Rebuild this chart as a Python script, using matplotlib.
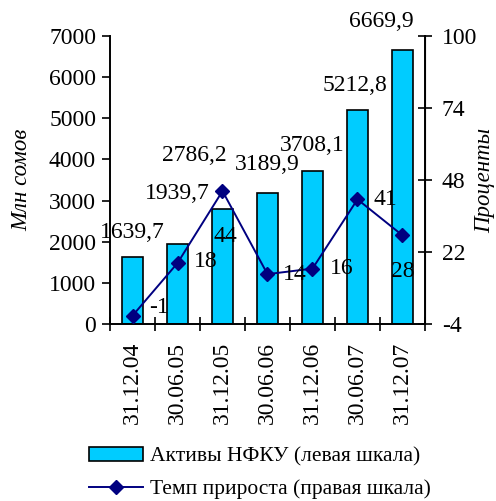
import matplotlib
matplotlib.use("Agg")
import matplotlib.pyplot as plt
from matplotlib.lines import Line2D
from matplotlib.patches import Patch
import numpy as np

plt.rcParams['font.family'] = ['Liberation Serif', 'DejaVu Serif']
plt.rcParams['axes.unicode_minus'] = False

dates = ["31.12.04", "30.06.05", "31.12.05", "30.06.06", "31.12.06", "30.06.07", "31.12.07"]
assets = [1639.7, 1939.7, 2786.2, 3189.9, 3708.1, 5212.8, 6669.9]
growth = [-1, 18, 44, 14, 16, 41, 28]
right_ticks = [-4, 22, 48, 74, 100]

# label placement offsets (points) relative to each mark
asset_offsets = [(0, 17.6), (0, 36.7), (-20, 39), (0, 20), (0, 18.7), (-2, 17.6), (-15, 20)]
growth_offsets = [(19, 6), (20, 1), (2, -33), (20, 0), (21, 0), (20, 0), (0, -26)]

fs = 17
lab_fs = 16.5
leg_fs = 15.5
bar_color = "#00CCFF"
line_color = "#000080"

fig = plt.figure(figsize=(4.96, 5.01), dpi=100)
ax = fig.add_axes([0.2218, 0.3533, 0.635, 0.5749])
ax2 = ax.twinx()

x = np.arange(len(dates))
ax.bar(x, assets, width=0.45, color=bar_color, edgecolor="black", linewidth=1.2, zorder=2)
ax.set_xlim(-0.5, len(dates) - 0.5)
ax.set_ylim(0, 7000)
ax.set_yticks(np.arange(0, 7001, 1000))
ax.set_xticks(np.arange(-0.5, len(dates), 1.0))
ax.set_xticklabels([])
ax.set_xticks(x, minor=True)
ax.set_xticklabels(dates, minor=True, rotation=90, fontsize=fs, va="top")
ax.tick_params(axis="x", which="major", direction="inout", length=10, width=1.2)
ax.tick_params(axis="x", which="minor", length=0, pad=13)
ax.tick_params(axis="y", direction="out", length=6, width=1.2, labelsize=fs, pad=4)
ax.spines["top"].set_visible(False)
for s in ("left", "bottom"):
    ax.spines[s].set_linewidth(1.4)

for xi, v, off in zip(x, assets, asset_offsets):
    ax.annotate(f"{v:.1f}".replace(".", ","), (xi, v), xytext=off,
                textcoords="offset points", ha="center", va="center", fontsize=fs)

ax2.plot(x, growth, color=line_color, marker="D", markersize=7, linewidth=1.4, zorder=3)
ax2.set_ylim(-4, 100)
ax2.set_yticks(right_ticks)
ax2.tick_params(axis="y", direction="inout", length=10, width=1.2, labelsize=fs, pad=7)
ax2.spines["top"].set_visible(False)
ax2.spines["left"].set_visible(False)
ax2.spines["bottom"].set_visible(False)
ax2.spines["right"].set_linewidth(1.4)

for xi, v, off in zip(x, growth, growth_offsets):
    ax2.annotate(str(v), (xi, v), xytext=off, textcoords="offset points",
                 ha="center", va="center", fontsize=fs)

ax.set_ylabel("Млн сомов", fontsize=lab_fs, style="italic")
ax.yaxis.set_label_coords(-0.248, 0.5)
ax2.set_ylabel("Проценты", fontsize=lab_fs, style="italic")
ax2.yaxis.set_label_coords(1.155, 0.5)

handles = [
    Patch(facecolor=bar_color, edgecolor="black", linewidth=1.2, label="Активы НФКУ (левая шкала)"),
    Line2D([0], [0], color=line_color, marker="D", markersize=7, linewidth=1.4,
           label="Темп прироста (правая шкала)"),
]
fig.legend(handles=handles, loc="upper left", bbox_to_anchor=(89 / 496, 1 - 447 / 501),
           frameon=False, fontsize=leg_fs, handlelength=2.5, handleheight=0.65,
           handletextpad=0.33, labelspacing=0.6, borderpad=0, borderaxespad=0)

fig.savefig("out.png", dpi=100)
